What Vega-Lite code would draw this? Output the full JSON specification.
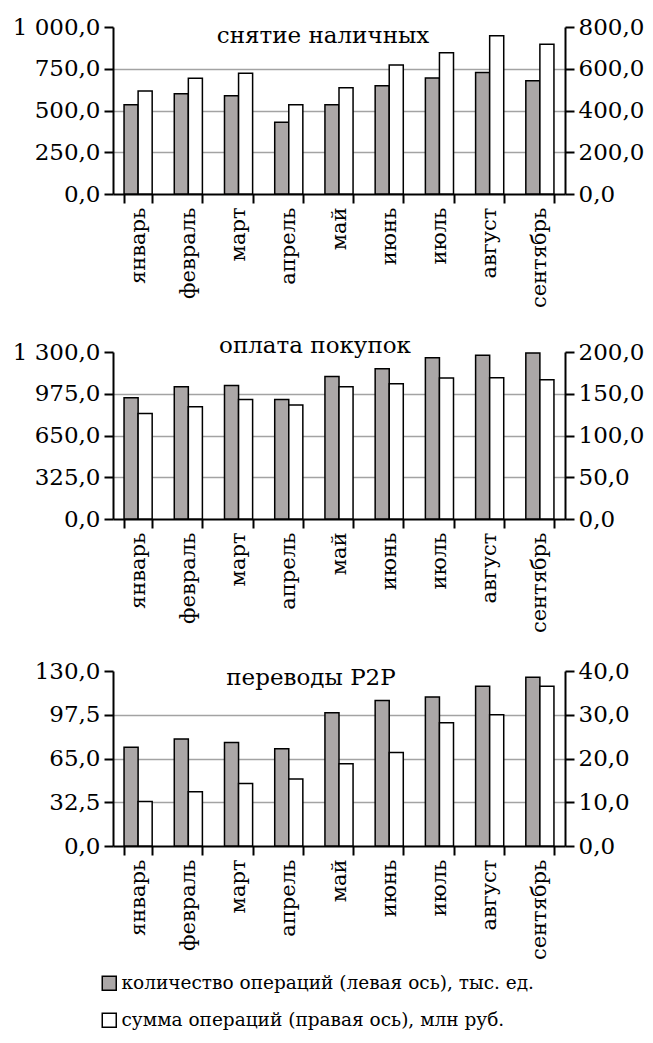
{
  "$schema": "https://vega.github.io/schema/vega-lite/v6.json",
  "padding": {"left": 12, "top": 16, "right": 3, "bottom": 3},
  "config": {
    "locale": {"number": {"decimal": ",", "thousands": " ", "grouping": [3], "currency": ["", ""]}},
    "font": "DejaVu Serif",
    "view": {"stroke": null},
    "concat": {"spacing": 27},
    "axis": {
      "domainColor": "black", "domainWidth": 2, "tickColor": "black", "tickWidth": 2, "tickSize": 9,
      "labelFont": "DejaVu Serif", "labelFontSize": 23, "labelColor": "black", "labelPadding": 4,
      "title": null, "gridColor": "#a3a3a3", "gridWidth": 1.5
    },
    "axisX": {"labelFontSize": 21},
    "title": {"font": "DejaVu Serif", "fontSize": 23, "fontWeight": "normal", "color": "black", "frame": "group"},
    "legend": {"labelFont": "DejaVu Serif", "labelFontSize": 18.5, "labelColor": "black", "labelLimit": 0}
  },
  "data": {"values": [
    {"p": "снятие наличных", "m": "январь", "s": "count", "v": 534},
    {"p": "снятие наличных", "m": "февраль", "s": "count", "v": 600},
    {"p": "снятие наличных", "m": "март", "s": "count", "v": 588},
    {"p": "снятие наличных", "m": "апрель", "s": "count", "v": 430},
    {"p": "снятие наличных", "m": "май", "s": "count", "v": 534},
    {"p": "снятие наличных", "m": "июнь", "s": "count", "v": 648},
    {"p": "снятие наличных", "m": "июль", "s": "count", "v": 694},
    {"p": "снятие наличных", "m": "август", "s": "count", "v": 728},
    {"p": "снятие наличных", "m": "сентябрь", "s": "count", "v": 678},
    {"p": "снятие наличных", "m": "январь", "s": "sum", "v": 493},
    {"p": "снятие наличных", "m": "февраль", "s": "sum", "v": 555},
    {"p": "снятие наличных", "m": "март", "s": "sum", "v": 579},
    {"p": "снятие наличных", "m": "апрель", "s": "sum", "v": 427},
    {"p": "снятие наличных", "m": "май", "s": "sum", "v": 509},
    {"p": "снятие наличных", "m": "июнь", "s": "sum", "v": 618},
    {"p": "снятие наличных", "m": "июль", "s": "sum", "v": 677},
    {"p": "снятие наличных", "m": "август", "s": "sum", "v": 758},
    {"p": "снятие наличных", "m": "сентябрь", "s": "sum", "v": 717},
    {"p": "оплата покупок", "m": "январь", "s": "count", "v": 944},
    {"p": "оплата покупок", "m": "февраль", "s": "count", "v": 1030},
    {"p": "оплата покупок", "m": "март", "s": "count", "v": 1040},
    {"p": "оплата покупок", "m": "апрель", "s": "count", "v": 931},
    {"p": "оплата покупок", "m": "май", "s": "count", "v": 1110},
    {"p": "оплата покупок", "m": "июнь", "s": "count", "v": 1170},
    {"p": "оплата покупок", "m": "июль", "s": "count", "v": 1256},
    {"p": "оплата покупок", "m": "август", "s": "count", "v": 1274},
    {"p": "оплата покупок", "m": "сентябрь", "s": "count", "v": 1292},
    {"p": "оплата покупок", "m": "январь", "s": "sum", "v": 126.4},
    {"p": "оплата покупок", "m": "февраль", "s": "sum", "v": 134.4},
    {"p": "оплата покупок", "m": "март", "s": "sum", "v": 143.2},
    {"p": "оплата покупок", "m": "апрель", "s": "sum", "v": 136.4},
    {"p": "оплата покупок", "m": "май", "s": "sum", "v": 158.4},
    {"p": "оплата покупок", "m": "июнь", "s": "sum", "v": 162.0},
    {"p": "оплата покупок", "m": "июль", "s": "sum", "v": 168.8},
    {"p": "оплата покупок", "m": "август", "s": "sum", "v": 169.2},
    {"p": "оплата покупок", "m": "сентябрь", "s": "sum", "v": 166.8},
    {"p": "переводы P2P", "m": "январь", "s": "count", "v": 73.4},
    {"p": "переводы P2P", "m": "февраль", "s": "count", "v": 79.4},
    {"p": "переводы P2P", "m": "март", "s": "count", "v": 76.9},
    {"p": "переводы P2P", "m": "апрель", "s": "count", "v": 72.2},
    {"p": "переводы P2P", "m": "май", "s": "count", "v": 99.0},
    {"p": "переводы P2P", "m": "июнь", "s": "count", "v": 108.1},
    {"p": "переводы P2P", "m": "июль", "s": "count", "v": 110.6},
    {"p": "переводы P2P", "m": "август", "s": "count", "v": 118.6},
    {"p": "переводы P2P", "m": "сентябрь", "s": "count", "v": 125.3},
    {"p": "переводы P2P", "m": "январь", "s": "sum", "v": 10.2},
    {"p": "переводы P2P", "m": "февраль", "s": "sum", "v": 12.4},
    {"p": "переводы P2P", "m": "март", "s": "sum", "v": 14.3},
    {"p": "переводы P2P", "m": "апрель", "s": "sum", "v": 15.3},
    {"p": "переводы P2P", "m": "май", "s": "sum", "v": 18.8},
    {"p": "переводы P2P", "m": "июнь", "s": "sum", "v": 21.4},
    {"p": "переводы P2P", "m": "июль", "s": "sum", "v": 28.2},
    {"p": "переводы P2P", "m": "август", "s": "sum", "v": 30.0},
    {"p": "переводы P2P", "m": "сентябрь", "s": "sum", "v": 36.5}
  ]},
  "vconcat": [
    {
      "width": 452, "height": 167,
      "title": {"text": "снятие наличных", "offset": -32, "dx": -16},
      "transform": [{"filter": "datum.p === 'снятие наличных'"}],
      "encoding": {
        "x": {"field": "m", "type": "nominal", "sort": ["январь","февраль","март","апрель","май","июнь","июль","август","сентябрь"],
              "scale": {"paddingInner": 0.44, "paddingOuter": 0.22},
              "axis": {"labelAngle": -90, "tickBand": "extent", "grid": false}},
        "xOffset": {"field": "s", "type": "nominal", "sort": ["count", "sum"], "scale": {"paddingInner": 0, "paddingOuter": 0}},
        "fill": {"field": "s", "type": "nominal", "sort": ["count", "sum"],
                 "scale": {"domain": ["count", "sum"], "range": ["#aba7a7", "#ffffff"]},
                 "legend": {"title": null, "orient": "none", "legendX": -13, "legendY": 947, "direction": "vertical", "symbolType": "square", "symbolSize": 196,
                            "symbolStrokeColor": "black", "symbolStrokeWidth": 1.5, "rowPadding": 16, "labelOffset": 3,
                            "labelExpr": "datum.value === 'count' ? 'количество операций (левая ось), тыс. ед.' : 'сумма операций (правая ось), млн руб.'"}}
      },
      "layer": [
        {"transform": [{"filter": "datum.s === 'count'"}],
         "mark": {"type": "bar", "stroke": "black", "strokeWidth": 1.5},
         "encoding": {"y": {"field": "v", "type": "quantitative", "scale": {"domain": [0, 1000], "nice": false},
           "axis": {"orient": "left", "values": [0, 250, 500, 750, 1000], "format": ",.1f", "grid": true,
                    "gridOpacity": {"condition": {"test": "datum.value > 0 && datum.value < 1000", "value": 1}, "value": 0}}}}},
        {"transform": [{"filter": "datum.s === 'sum'"}],
         "mark": {"type": "bar", "stroke": "black", "strokeWidth": 1.5},
         "encoding": {"y": {"field": "v", "type": "quantitative", "scale": {"domain": [0, 800], "nice": false},
           "axis": {"orient": "right", "values": [0, 200, 400, 600, 800], "format": ",.1f", "grid": false}}}}
      ],
      "resolve": {"scale": {"y": "independent"}}
    },
    {
      "width": 452, "height": 167,
      "title": {"text": "оплата покупок", "offset": -17, "dx": -24},
      "transform": [{"filter": "datum.p === 'оплата покупок'"}],
      "encoding": {
        "x": {"field": "m", "type": "nominal", "sort": ["январь","февраль","март","апрель","май","июнь","июль","август","сентябрь"],
              "scale": {"paddingInner": 0.44, "paddingOuter": 0.22},
              "axis": {"labelAngle": -90, "tickBand": "extent", "grid": false}},
        "xOffset": {"field": "s", "type": "nominal", "sort": ["count", "sum"], "scale": {"paddingInner": 0, "paddingOuter": 0}},
        "fill": {"field": "s", "type": "nominal", "sort": ["count", "sum"],
                 "scale": {"domain": ["count", "sum"], "range": ["#aba7a7", "#ffffff"]}}
      },
      "layer": [
        {"transform": [{"filter": "datum.s === 'count'"}],
         "mark": {"type": "bar", "stroke": "black", "strokeWidth": 1.5},
         "encoding": {"y": {"field": "v", "type": "quantitative", "scale": {"domain": [0, 1300], "nice": false},
           "axis": {"orient": "left", "values": [0, 325, 650, 975, 1300], "format": ",.1f", "grid": true,
                    "gridOpacity": {"condition": {"test": "datum.value > 0 && datum.value < 1300", "value": 1}, "value": 0}}}}},
        {"transform": [{"filter": "datum.s === 'sum'"}],
         "mark": {"type": "bar", "stroke": "black", "strokeWidth": 1.5},
         "encoding": {"y": {"field": "v", "type": "quantitative", "scale": {"domain": [0, 200], "nice": false},
           "axis": {"orient": "right", "values": [0, 50, 100, 150, 200], "format": ",.1f", "grid": false}}}}
      ],
      "resolve": {"scale": {"y": "independent"}}
    },
    {
      "width": 452, "height": 175,
      "title": {"text": "переводы P2P", "offset": -30, "dx": -28},
      "transform": [{"filter": "datum.p === 'переводы P2P'"}],
      "encoding": {
        "x": {"field": "m", "type": "nominal", "sort": ["январь","февраль","март","апрель","май","июнь","июль","август","сентябрь"],
              "scale": {"paddingInner": 0.44, "paddingOuter": 0.22},
              "axis": {"labelAngle": -90, "tickBand": "extent", "grid": false}},
        "xOffset": {"field": "s", "type": "nominal", "sort": ["count", "sum"], "scale": {"paddingInner": 0, "paddingOuter": 0}},
        "fill": {"field": "s", "type": "nominal", "sort": ["count", "sum"],
                 "scale": {"domain": ["count", "sum"], "range": ["#aba7a7", "#ffffff"]}}
      },
      "layer": [
        {"transform": [{"filter": "datum.s === 'count'"}],
         "mark": {"type": "bar", "stroke": "black", "strokeWidth": 1.5},
         "encoding": {"y": {"field": "v", "type": "quantitative", "scale": {"domain": [0, 130], "nice": false},
           "axis": {"orient": "left", "values": [0, 32.5, 65, 97.5, 130], "format": ",.1f", "grid": true,
                    "gridOpacity": {"condition": {"test": "datum.value > 0 && datum.value < 130", "value": 1}, "value": 0}}}}},
        {"transform": [{"filter": "datum.s === 'sum'"}],
         "mark": {"type": "bar", "stroke": "black", "strokeWidth": 1.5},
         "encoding": {"y": {"field": "v", "type": "quantitative", "scale": {"domain": [0, 40], "nice": false},
           "axis": {"orient": "right", "values": [0, 10, 20, 30, 40], "format": ",.1f", "grid": false}}}}
      ],
      "resolve": {"scale": {"y": "independent"}}
    }
  ]
}
